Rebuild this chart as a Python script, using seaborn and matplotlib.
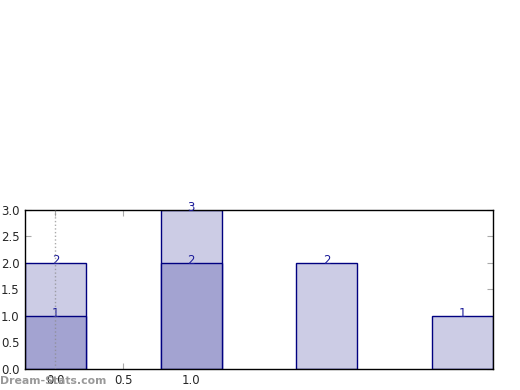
import pandas as pd
import seaborn as sns
import matplotlib.pyplot as plt

# bar data
groups = ["a", "b", "c", "d"]
totals = [2, 3, 2, 1]
parts = [1, 2, 0, 0]
tick_pos = [0.0, 0.5, 1.0]
tick_labels = ["0.0", "0.5", "1.0"]


def make_plot(filename):
    sns.set_style("white")
    plt.rcParams["font.family"] = ["DejaVu Sans"]
    fig = plt.figure(figsize=(5.2, 3.9), dpi=100)
    ax = fig.add_axes([0.048, 0.054, 0.9, 0.408])

    df = pd.DataFrame({"group": groups, "total": totals, "part": parts})
    sns.barplot(data=df, x="group", y="total", order=groups, color="#ccccE5",
                saturation=1, width=0.45, edgecolor="#000080", linewidth=1, ax=ax)
    front = df[df["part"] > 0]
    sns.barplot(data=front, x="group", y="part", order=groups, color="#a3a3d1",
                saturation=1, width=0.45, edgecolor="#000080", linewidth=1, ax=ax)

    for i, (t, p) in enumerate(zip(totals, parts)):
        ax.text(i, t + 0.05, str(t), ha="center", va="center", color="#1a1a99", fontsize=8.5)
        if p > 0:
            ax.text(i, p + 0.05, str(p), ha="center", va="center", color="#1a1a99", fontsize=8.5)

    # dotted marker line drawn over the first bar
    ax.plot([0, 0], [0, 3], color="#888888", linestyle=":", linewidth=1, alpha=0.7, zorder=5)

    ax.set_xlim(-0.225, 3.225)
    ax.set_ylim(0, 3)
    ax.set_xticks(tick_pos)
    ax.set_xticklabels(tick_labels)
    ax.set_yticks([0, 0.5, 1.0, 1.5, 2.0, 2.5, 3.0])
    ax.set_xlabel("")
    ax.set_ylabel("")
    ax.tick_params(direction="in", length=4, color="#aaaaaa", labelsize=8.5,
                   top=True, right=True, bottom=True, left=True, pad=4)
    for s in ax.spines.values():
        s.set_color("black")
        s.set_linewidth(1)

    fig.text(0.0, 0.01, "Dream-Stats.com", color="#999999", fontsize=7.8,
             fontweight="bold", ha="left", va="bottom")
    fig.savefig(filename, dpi=100)


make_plot("out.png")
